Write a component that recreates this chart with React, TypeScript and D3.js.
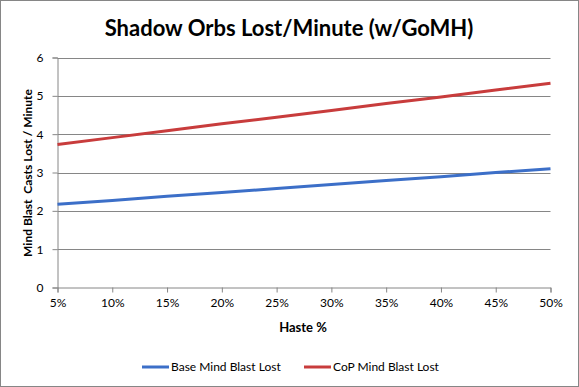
import React, { useEffect, useRef } from 'react';
import * as d3 from 'd3';

const hasteLabels = ['5%', '10%', '15%', '20%', '25%', '30%', '35%', '40%', '45%', '50%'];
const baseLost = [2.17, 2.27, 2.38, 2.48, 2.58, 2.69, 2.79, 2.89, 3.0, 3.1];
const copLost = [3.73, 3.91, 4.09, 4.27, 4.44, 4.62, 4.8, 4.97, 5.15, 5.33];
const yTicks = [0, 1, 2, 3, 4, 5, 6];

const seriesNames = ['Base Mind Blast Lost', 'CoP Mind Blast Lost'];
const seriesColors = ['#3c6fc8', '#c83c3c'];

const W = 579;
const H = 387;
const FONT = 'Lato, "Open Sans", sans-serif';

const App = () => {
  const svgRef = useRef<SVGSVGElement>(null);

  useEffect(() => {
    document.body.style.margin = '0';
    const svg = d3.select(svgRef.current);
    svg.selectAll('*').remove();

    const left = 57.5;
    const right = 550.5;
    const top = 57.5;
    const bottom = 287.5;

    const x = d3.scalePoint<string>().domain(hasteLabels).range([left, right]);
    const y = d3.scaleLinear().domain([0, 6]).range([bottom, top]);

    svg
      .append('rect')
      .attr('x', 0.5)
      .attr('y', 0.5)
      .attr('width', W - 1)
      .attr('height', H - 1)
      .attr('fill', '#fff')
      .attr('stroke', '#868686');

    svg
      .append('text')
      .attr('x', 289)
      .attr('y', 36)
      .attr('text-anchor', 'middle')
      .style('font-family', FONT)
      .style('font-weight', 'bold')
      .style('font-size', '22px')
      .text('Shadow Orbs Lost/Minute (w/GoMH)');

    // gridlines
    svg
      .append('g')
      .selectAll('line')
      .data(yTicks.filter((d) => d > 0))
      .enter()
      .append('line')
      .attr('x1', left)
      .attr('x2', right)
      .attr('y1', (d) => Math.round(y(d)) + 0.5)
      .attr('y2', (d) => Math.round(y(d)) + 0.5)
      .attr('stroke', '#868686');

    const yAxis = d3
      .axisLeft(y)
      .tickValues(yTicks)
      .tickFormat(d3.format('d'))
      .tickSize(5)
      .tickPadding(9);
    const gy = svg.append('g').attr('transform', `translate(${left},0)`).call(yAxis);
    const xAxis = d3.axisBottom(x).tickSize(5).tickPadding(6);
    const gx = svg.append('g').attr('transform', `translate(0,${bottom})`).call(xAxis);

    [gx, gy].forEach((g) => {
      g.select('.domain').attr('stroke', '#868686');
      g.selectAll('.tick line').attr('stroke', '#868686');
      g.selectAll('.tick text')
        .attr('fill', '#000')
        .style('font-family', FONT)
        .style('font-size', '12px');
    });

    svg
      .append('text')
      .attr('x', 303)
      .attr('y', 332)
      .attr('text-anchor', 'middle')
      .style('font-family', FONT)
      .style('font-weight', 'bold')
      .style('font-size', '13px')
      .text('Haste %');

    svg
      .append('text')
      .attr('transform', `translate(32,173) rotate(-90)`)
      .attr('text-anchor', 'middle')
      .style('font-family', FONT)
      .style('font-weight', 'bold')
      .style('font-size', '12px')
      .style('white-space', 'pre')
      .text('Mind Blast  Casts Lost / Minute');

    const line = d3
      .line<number>()
      .x((d, i) => x(hasteLabels[i]) as number)
      .y((d) => y(d));

    [baseLost, copLost].forEach((data, i) => {
      svg
        .append('path')
        .datum(data)
        .attr('d', line)
        .attr('fill', 'none')
        .attr('stroke', seriesColors[i])
        .attr('stroke-width', 3);
    });

    const legendX = [142, 304];
    const legendY = 367;
    seriesNames.forEach((name, i) => {
      svg
        .append('line')
        .attr('x1', legendX[i])
        .attr('x2', legendX[i] + 27)
        .attr('y1', legendY)
        .attr('y2', legendY)
        .attr('stroke', seriesColors[i])
        .attr('stroke-width', 3);
      svg
        .append('text')
        .attr('x', legendX[i] + 29)
        .attr('y', legendY + 4)
        .style('font-family', FONT)
        .style('font-size', '12px')
        .text(name);
    });
  }, []);

  return <svg ref={svgRef} width={W} height={H} style={{ display: 'block' }} />;
};

export default App;
